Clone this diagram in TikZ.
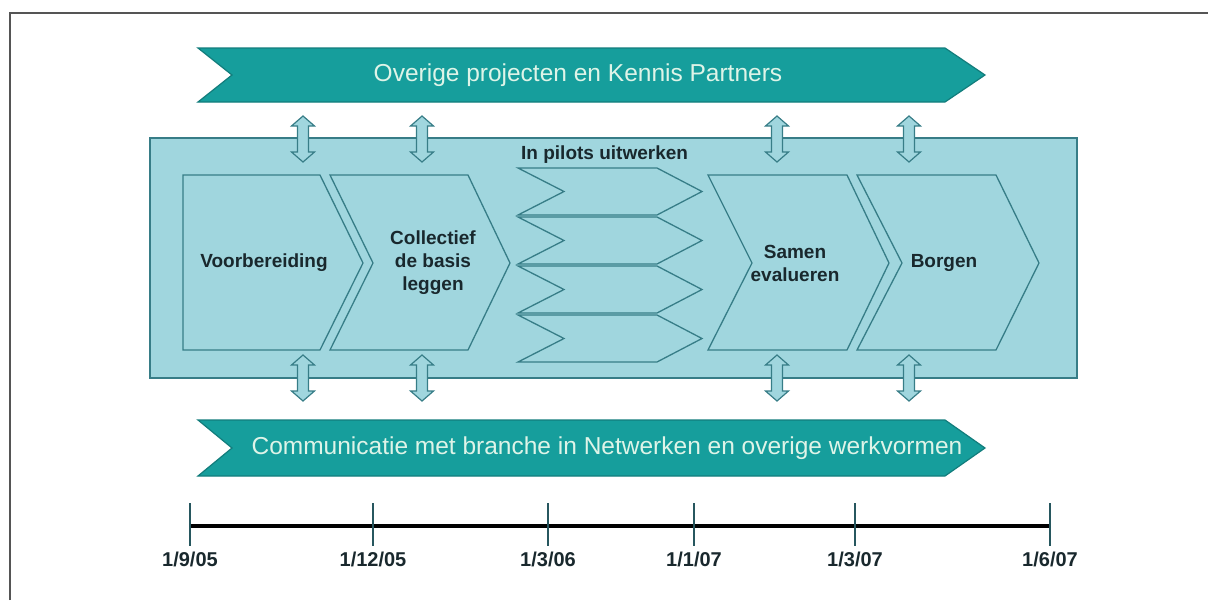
\documentclass[tikz,border=0pt]{standalone}
\usepackage{fontspec}
\setmainfont{Liberation Sans}
\usepackage{xcolor}
\usepackage{tikz}
\usetikzlibrary{positioning}

\definecolor{bannerteal}{RGB}{22,158,156}
\definecolor{banneredge}{RGB}{18,125,124}
\definecolor{bannertext}{RGB}{222,244,232}
\definecolor{lightfill}{RGB}{160,214,222}
\definecolor{phaseedge}{RGB}{55,125,135}
\definecolor{darktext}{RGB}{25,40,45}
\definecolor{framegray}{RGB}{85,85,85}

\begin{document}
\begin{tikzpicture}[
        x=1pt, y=-1pt,
        banner/.style={fill=bannerteal, draw=banneredge, line width=1.2pt},
        bannerlabel/.style={text=bannertext, font=\fontsize{24.5}{28}\selectfont, inner sep=0},
        phase/.style={fill=lightfill, draw=phaseedge, line width=1.3pt, line join=miter},
        phaselabel/.style={text=darktext, font=\fontsize{19}{23}\selectfont\bfseries, align=center, inner sep=0},
        twoway/.style={fill=lightfill, draw=phaseedge, line width=1.2pt},
        datelabel/.style={text=darktext, font=\fontsize{20}{22}\selectfont\bfseries, inner sep=0}
    ]
    \useasboundingbox (0,0) rectangle (1208,600);

    % Frame
    \draw[framegray, line width=2pt] (10,600) -- (10,13) -- (1208,13);

    % Banners
    \draw[banner] (198,48) -- (945,48) -- (985,75) -- (945,102) -- (198,102) -- (232,75) -- cycle;
    \node[bannerlabel] (projects) at (578,75) {Overige projecten en Kennis Partners};
    \draw[banner] (198,420) -- (945,420) -- (985,448) -- (945,476) -- (198,476) -- (232,448) -- cycle;
    \node[bannerlabel] (communication) at (607,448) {Communicatie met branche in Netwerken en overige werkvormen};

    % Process area
    \draw[phase] (150,138) rectangle (1077,378);

    % Double arrows
    \foreach \x in {303,422,777,909} {
        \foreach \yt/\yb in {116/162, 355/401} {
            \draw[twoway] (\x,\yt) -- (\x+11.5,\yt+10) -- (\x+5.5,\yt+10) -- (\x+5.5,\yb-10)
                -- (\x+11.5,\yb-10) -- (\x,\yb) -- (\x-11.5,\yb-10) -- (\x-5.5,\yb-10)
                -- (\x-5.5,\yt+10) -- (\x-11.5,\yt+10) -- cycle;
        }
    }

    % Phases
    \draw[phase] (183,175) -- (320,175) -- (363,263) -- (320,350) -- (183,350) -- cycle;
    \node[phaselabel] (prep) at (264,263) {Voorbereiding};
    \draw[phase] (330,175) -- (468,175) -- (510,263) -- (468,350) -- (330,350) -- (373,263) -- cycle;
    \node[phaselabel] (basis) at (433,263) {Collectief\\de basis\\leggen};
    \draw[phase] (708,175) -- (847,175) -- (889,263) -- (847,350) -- (708,350) -- (752,263) -- cycle;
    \node[phaselabel] (evaluate) at (795,263) {Samen\\evalueren};
    \draw[phase] (857,175) -- (996,175) -- (1039,263) -- (996,350) -- (857,350) -- (902,263) -- cycle;
    \node[phaselabel] (secure) at (944,263) {Borgen};

    % Pilots
    \node[phaselabel, anchor=west] (pilots) at (521,155) {In pilots uitwerken};
    \foreach \yt in {168,217,266,315} {
        \draw[phase] (518,\yt) -- (657,\yt) -- (702,\yt+23.5) -- (657,\yt+47) -- (518,\yt+47) -- (564,\yt+23.5) -- cycle;
    }

    % Timeline
    \draw[line width=4pt] (190,526) -- (1050,526);
    \foreach \x/\d [count=\i] in {190/1\slash 9\slash 05, 373/1\slash 12\slash 05, 548/1\slash 3\slash 06,
                                  694/1\slash 1\slash 07, 855/1\slash 3\slash 07, 1050/1\slash 6\slash 07} {
        \draw[phaseedge!70!black, line width=1.3pt] (\x,503) -- (\x,546);
        \node[datelabel] (date\i) at (\x,559) {\d};
    }

\end{tikzpicture}
\end{document}
